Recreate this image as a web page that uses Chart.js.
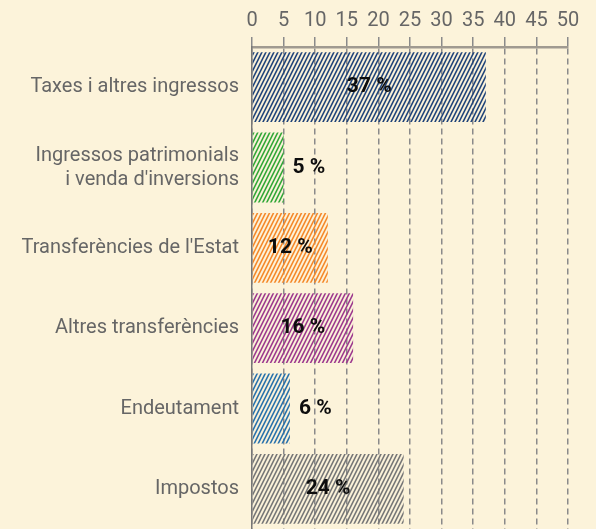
<!DOCTYPE html>
<html>
<head>
<meta charset="utf-8">
<script src="https://cdn.jsdelivr.net/npm/chart.js@4"></script>
<style>
  html, body { margin: 0; padding: 0; background: #fcf3da; overflow: hidden; }
  canvas { display: block; }
</style>
</head>
<body>
<canvas id="fontsChart" width="596" height="529"></canvas>
<script>
'use strict';

/* ── data ── */
const categories = [
    'Taxes i altres ingressos',
    ['Ingressos patrimonials', "i venda d'inversions"],
    "Transferències de l'Estat",
    'Altres transferències',
    'Endeutament',
    'Impostos',
];
const shares = [37, 5, 12, 16, 6, 24];
const tickValues = [0, 5, 10, 15, 20, 25, 30, 35, 40, 45, 50];
const stripeColors = ['#22457a', '#33a838', '#f5892a', '#9e3a8e', '#2a72ac', '#777777'];

/* steep diagonal hatch fill */
function hatch(ctx, color) {
    const c = document.createElement('canvas');
    c.width = 4; c.height = 8;
    const g = c.getContext('2d');
    g.strokeStyle = color;
    g.lineWidth = 1.6;
    g.beginPath();
    [-4, 0, 4].forEach(dx => { g.moveTo(dx - 1, 10); g.lineTo(dx + 5, -2); });
    g.stroke();
    return ctx.createPattern(c, 'repeat');
}

/* value labels: centred in wide bars, just past the end of short ones */
const valueLabels = {
    id: 'valueLabels',
    afterDatasetsDraw(chart) {
        const ctx = chart.ctx;
        const meta = chart.getDatasetMeta(0);
        ctx.save();
        ctx.font = 'bold 21px Roboto';
        ctx.fillStyle = '#0d0d0d';
        ctx.textBaseline = 'middle';
        meta.data.forEach((bar, i) => {
            const v = shares[i];
            const txt = v + ' %';
            if (v >= 10) {
                ctx.textAlign = 'center';
                ctx.fillText(txt, (bar.x + bar.base) / 2, bar.y);
            } else {
                ctx.textAlign = 'left';
                ctx.fillText(txt, bar.x + 9, bar.y);
            }
        });
        ctx.restore();
    },
};

const ctx = document.getElementById('fontsChart').getContext('2d');
new Chart(ctx, {
    type: 'bar',
    data: {
        labels: categories,
        datasets: [{
            data: shares,
            backgroundColor: stripeColors.map(c => hatch(ctx, c)),
            borderWidth: 0,
            categoryPercentage: 1,
            barPercentage: 0.87,
        }],
    },
    options: {
        indexAxis: 'y',
        responsive: false,
        animation: false,
        layout: { padding: { left: 0, right: 28, top: 0, bottom: 0 } },
        plugins: {
            legend: { display: false },
            tooltip: { enabled: false },
        },
        scales: {
            x: {
                position: 'top',
                min: 0,
                max: 50,
                afterBuildTicks: s => { s.ticks = tickValues.map(v => ({ value: v })); },
                afterFit: s => { s.height = 47; },
                ticks: { color: '#666', font: { family: 'Roboto', size: 20 }, padding: 4 },
                grid: {
                    color: '#8a8a8a',
                    lineWidth: 1.5,
                    tickBorderDash: [],
                    tickLength: 10,
                },
                border: { display: true, color: '#a09a90', width: 2.5, dash: [6, 4] },
            },
            y: {
                afterFit: s => { s.width = 252; s.paddingTop = 0; s.paddingBottom = 0; },
                ticks: { color: '#666', font: { family: 'Roboto', size: 20 }, padding: 13 },
                grid: { display: false, drawTicks: false },
                border: { display: true, color: '#777', width: 1.5 },
            },
        },
    },
    plugins: [valueLabels],
});
</script>
</body>
</html>
